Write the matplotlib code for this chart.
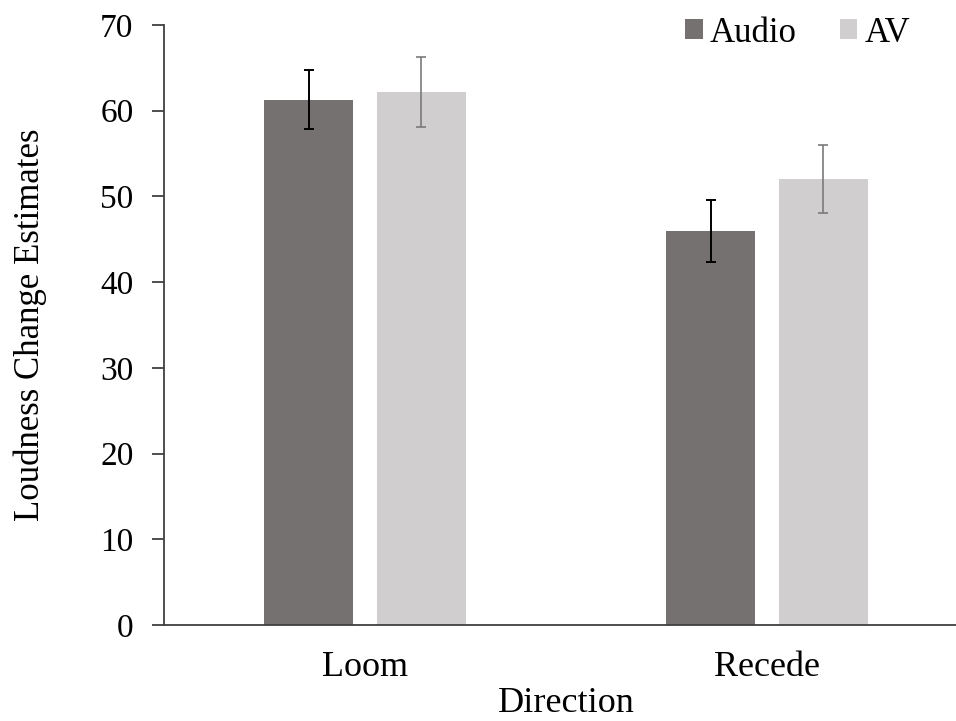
import matplotlib
matplotlib.use("Agg")
import matplotlib.pyplot as plt
import numpy as np

# values
directions = ["Loom", "Recede"]
audio_means = [61.3, 46.0]
audio_err = [3.4, 3.6]
av_means = [62.2, 52.0]
av_err = [4.1, 3.95]

plt.rcParams["font.family"] = ["Liberation Serif", "DejaVu Serif"]

fig = plt.figure(figsize=(9.56, 7.21), dpi=100)
ax = fig.add_axes([164 / 956, 96 / 721, 804 / 956, 600 / 721])

x = np.arange(len(directions))
w = 0.222
off = 0.14

ax.bar(x - off, audio_means, w, color="#767171", label="Audio", zorder=2)
ax.bar(x + off, av_means, w, color="#D0CECE", label="AV", zorder=2)
ax.errorbar(x - off, audio_means, yerr=audio_err, fmt="none", ecolor="#000000",
            elinewidth=1.4, capsize=3.3, capthick=1.4, zorder=3)
ax.errorbar(x + off, av_means, yerr=av_err, fmt="none", ecolor="#7a7a7a",
            elinewidth=1.2, capsize=3.3, capthick=1.2, zorder=3)

ax.set_xlim(-0.5, 1.5)
ax.set_ylim(0, 70)
ax.set_yticks(range(0, 71, 10))
ax.set_xticks(x)
ax.set_xticklabels(directions)

for s in ["top", "right"]:
    ax.spines[s].set_visible(False)
for s in ["left", "bottom"]:
    ax.spines[s].set_color("#404040")
    ax.spines[s].set_linewidth(1.3)

ax.tick_params(axis="y", length=9, width=1.3, color="#404040", pad=13, labelsize=24)
ax.tick_params(axis="x", length=0, pad=19, labelsize=26)

ax.set_ylabel("Loudness Change Estimates", fontsize=25, labelpad=38)
ax.set_xlabel("Direction", fontsize=26, labelpad=2)

ax.legend(loc="center right", bbox_to_anchor=(910 / 956, 1 - 33 / 721),
          bbox_transform=fig.transFigure, ncol=2, frameon=False, fontsize=25,
          handlelength=0.5, handleheight=0.5, handletextpad=0.2,
          columnspacing=1.25, borderaxespad=0, borderpad=0)

fig.savefig("out.png", dpi=100)
